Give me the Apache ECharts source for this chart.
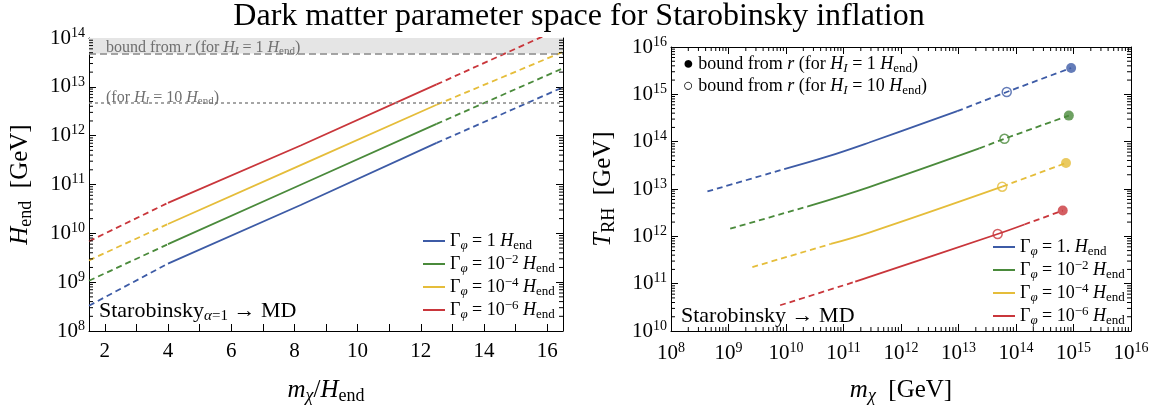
<!DOCTYPE html>
<html><head><meta charset="utf-8">
<script src="https://cdn.jsdelivr.net/npm/echarts@6/dist/echarts.min.js"></script>
<style>html,body{margin:0;padding:0;background:#fff}#c{width:1158px;height:405px}</style>
</head><body><div id="c"></div>
<script>
const FONT = "'Liberation Serif','DejaVu Serif',serif";
const COLORS = ['#3d5ba6', '#4a8a3b', '#e5bd3a', '#c9363b'];

// ---------- Left panel: H_end vs m_chi/H_end ----------
const ratioX = [1.5, 4, 8.2, 12.5, 16.5];
const hBlue = [3.3e8, 2.4e9, 3.8e10, 7.1e11, 9.8e12];
const hGreen = [1.07e9, 6.0e9, 9.9e10, 1.74e12, 2.4e13];
const hYellow = [2.8e9, 1.55e10, 2.5e11, 4.3e12, 5.2e13];
const hRed = [6.9e9, 4.2e10, 6.3e11, 1.12e13, 1.66e14];
const boundH = [4.8e13, 4.8e12];           // H_I = 1 H_end, H_I = 10 H_end
const leftXTicks = [2, 4, 6, 8, 10, 12, 14, 16];

// ---------- Right panel: T_RH vs m_chi ----------
const rBlueLow = [[4.3e8, 8.9e12], [9.3e9, 2.63e13]];
const rBlueSolid = [[9.3e9, 2.63e13], [5e10, 4.75e13], [2.8e11, 9.6e13], [9.5e12, 4.4e14]];
const rBlueHigh = [[9.5e12, 4.4e14], [6.9e13, 1.12e15], [9.1e14, 3.6e15]];
const rGreenLow = [[1.07e9, 1.45e12], [2.4e10, 4.3e12]];
const rGreenSolid = [[2.4e10, 4.3e12], [2.8e11, 1.1e13], [2.3e13, 7.2e13]];
const rGreenHigh = [[2.3e13, 7.2e13], [6.3e13, 1.15e14], [8.3e14, 3.55e14]];
const rYellowLow = [[2.6e9, 2.24e11], [6.0e10, 6.9e11]];
const rYellowSolid = [[6.0e10, 6.9e11], [2.8e11, 1.2e12], [5.75e13, 1.12e13]];
const rYellowHigh = [[5.75e13, 1.12e13], [7.4e14, 3.55e13]];
const rRedLow = [[7.9e9, 3.5e10], [1.6e11, 1.1e11]];
const rRedSolid = [[1.6e11, 1.1e11], [2.75e11, 1.38e11], [4.8e13, 1.12e12], [1.4e14, 1.78e12]];
const rRedHigh = [[1.4e14, 1.78e12], [6.5e14, 3.5e12]];
const openPts = [[6.9e13, 1.12e15], [6.3e13, 1.15e14], [5.75e13, 1.12e13], [4.8e13, 1.12e12]];
const filledPts = [[9.1e14, 3.6e15], [8.3e14, 3.55e14], [7.4e14, 3.55e13], [6.5e14, 3.5e12]];

const minorMult = [2, 3, 4, 5, 6, 7, 8, 9];
const leftYDecades = [8, 9, 10, 11, 12, 13];
const rightXDecades = [8, 9, 10, 11, 12, 13, 14, 15];
const rightYDecades = [10, 11, 12, 13, 14, 15];

function rich(size, color) {
  color = color || '#000';
  const s = Math.round(size * 0.7);
  const b = {fontFamily: FONT, color: color, fontWeight: 'normal'};
  return {
    n: Object.assign({}, b, {fontSize: size, lineHeight: Math.round(size * 1.2)}),
    i: Object.assign({}, b, {fontSize: size, fontStyle: 'italic', lineHeight: Math.round(size * 1.2)}),
    sb: Object.assign({}, b, {fontSize: s, verticalAlign: 'bottom', lineHeight: Math.round(size * 0.62)}),
    sbi: Object.assign({}, b, {fontSize: s, fontStyle: 'italic', verticalAlign: 'bottom', lineHeight: Math.round(size * 0.62)}),
    sp: Object.assign({}, b, {fontSize: s, verticalAlign: 'top', lineHeight: Math.round(size * 0.5)})
  };
}

const leftLegendText = {
  L0: '{n|Γ}{sbi|φ}{n| = 1 }{i|H}{sb|end}',
  L1: '{n|Γ}{sbi|φ}{n| = 10}{sp|−2}{n| }{i|H}{sb|end}',
  L2: '{n|Γ}{sbi|φ}{n| = 10}{sp|−4}{n| }{i|H}{sb|end}',
  L3: '{n|Γ}{sbi|φ}{n| = 10}{sp|−6}{n| }{i|H}{sb|end}'
};
const rightLegendText = {
  R0: '{n|Γ}{sbi|φ}{n| = 1. }{i|H}{sb|end}',
  R1: '{n|Γ}{sbi|φ}{n| = 10}{sp|−2}{n| }{i|H}{sb|end}',
  R2: '{n|Γ}{sbi|φ}{n| = 10}{sp|−4}{n| }{i|H}{sb|end}',
  R3: '{n|Γ}{sbi|φ}{n| = 10}{sp|−6}{n| }{i|H}{sb|end}'
};

const LW = 1.8;
const DASH = [6, 4];
const series = [];

// bounds (band + lines) on left panel
series.push({
  type: 'line', xAxisIndex: 0, yAxisIndex: 0, data: [], silent: true, z: 1,
  markArea: {silent: true, itemStyle: {color: '#e5e5e5'},
    data: [[{yAxis: boundH[0]}, {yAxis: 1e14}]]},
  markLine: {silent: true, symbol: 'none', label: {show: false},
    data: [
      {yAxis: boundH[0], lineStyle: {color: '#888', type: [7, 4], width: 1.5}},
      {yAxis: boundH[1], lineStyle: {color: '#888', type: [3, 3], width: 1.5}}
    ]}
});

const leftSets = [hBlue, hGreen, hYellow, hRed];
leftSets.forEach((h, k) => {
  const pts = ratioX.map((x, i) => [x, h[i]]);
  const base = {type: 'line', xAxisIndex: 0, yAxisIndex: 0, symbol: 'none', z: 3, clip: true};
  series.push(Object.assign({}, base, {name: 'L' + k + 'a', data: pts.slice(0, 2),
    lineStyle: {color: COLORS[k], width: LW, type: DASH}, itemStyle: {color: COLORS[k]}}));
  series.push(Object.assign({}, base, {name: 'L' + k, data: pts.slice(1, 4),
    lineStyle: {color: COLORS[k], width: LW}, itemStyle: {color: COLORS[k]}}));
  series.push(Object.assign({}, base, {name: 'L' + k + 'b', data: pts.slice(3, 5),
    lineStyle: {color: COLORS[k], width: LW, type: DASH}, itemStyle: {color: COLORS[k]}}));
});

const rightSets = [
  [rBlueLow, rBlueSolid, rBlueHigh],
  [rGreenLow, rGreenSolid, rGreenHigh],
  [rYellowLow, rYellowSolid, rYellowHigh],
  [rRedLow, rRedSolid, rRedHigh]
];
rightSets.forEach((s, k) => {
  const base = {type: 'line', xAxisIndex: 2, yAxisIndex: 2, symbol: 'none', z: 3, smooth: 0.4};
  series.push(Object.assign({}, base, {name: 'R' + k + 'a', data: s[0],
    lineStyle: {color: COLORS[k], width: LW, type: DASH}, itemStyle: {color: COLORS[k]}}));
  series.push(Object.assign({}, base, {name: 'R' + k, data: s[1],
    lineStyle: {color: COLORS[k], width: LW}, itemStyle: {color: COLORS[k]}}));
  series.push(Object.assign({}, base, {name: 'R' + k + 'b', data: s[2],
    lineStyle: {color: COLORS[k], width: LW, type: DASH}, itemStyle: {color: COLORS[k]}}));
  series.push({type: 'scatter', xAxisIndex: 2, yAxisIndex: 2, z: 4, symbol: 'circle', symbolSize: 9,
    data: [openPts[k]], itemStyle: {color: 'rgba(0,0,0,0)', borderColor: COLORS[k], borderWidth: 1.5}});
  series.push({type: 'scatter', xAxisIndex: 2, yAxisIndex: 2, z: 4, symbol: 'circle', symbolSize: 10,
    data: [filledPts[k]], itemStyle: {color: COLORS[k]}});
});

// minor log ticks (2..9 per decade) via custom series on the axes' scales
function tickSeries(xi, yi, data) {
  return {
    type: 'custom', xAxisIndex: xi, yAxisIndex: yi, silent: true, z: 6, data: data,
    renderItem: function (params, api) {
      const p = api.coord([api.value(0), api.value(1)]);
      return {type: 'line', shape: {x1: p[0], y1: p[1], x2: p[0] + api.value(2), y2: p[1] + api.value(3)},
        style: {stroke: '#000', lineWidth: 1}};
    }
  };
}
const TL = 4;
const lyMinor = [];
leftYDecades.forEach(d => minorMult.forEach(m => {
  const v = m * Math.pow(10, d);
  lyMinor.push([1.5, v, TL, 0]); lyMinor.push([16.5, v, -TL, 0]);
}));
series.push(tickSeries(0, 0, lyMinor));
const rMinor = [];
rightXDecades.forEach(d => minorMult.forEach(m => {
  const v = m * Math.pow(10, d);
  rMinor.push([v, 1e10, 0, -TL]); rMinor.push([v, 1e16, 0, TL]);
}));
rightYDecades.forEach(d => minorMult.forEach(m => {
  const v = m * Math.pow(10, d);
  rMinor.push([1e8, v, TL, 0]); rMinor.push([1e16, v, -TL, 0]);
}));
series.push(tickSeries(2, 2, rMinor));

const tickRich = {
  b: {fontFamily: FONT, fontSize: 21, color: '#000', fontWeight: 'normal', lineHeight: 24},
  s: {fontFamily: FONT, fontSize: 14, color: '#000', fontWeight: 'normal', verticalAlign: 'top', lineHeight: 12}
};
function logFmt(v) { return '{b|10}{s|' + Math.round(Math.log10(v)) + '}'; }

const axisLine = {show: true, lineStyle: {color: '#000', width: 1}};
const majorTick = {show: true, inside: true, length: 7, lineStyle: {color: '#000', width: 1}};

const xAxis = [
  {gridIndex: 0, type: 'value', position: 'bottom', min: 1.5, max: 16.5, splitNumber: 15,
    axisLine: axisLine, axisTick: majorTick, splitLine: {show: false},
    axisLabel: {margin: 10, fontFamily: FONT, fontSize: 21, color: '#000',
      formatter: v => (leftXTicks.indexOf(v) >= 0 ? String(v) : '')},
    name: '{i|m}{sbi|χ}{n|/}{i|H}{sb|end}', nameLocation: 'middle', nameGap: 44,
    nameTextStyle: {rich: rich(25)}},
  {gridIndex: 0, type: 'value', position: 'top', min: 1.5, max: 16.5, splitNumber: 15,
    axisLine: axisLine, axisTick: majorTick, splitLine: {show: false}, axisLabel: {show: false}},
  {gridIndex: 1, type: 'log', position: 'bottom', min: 1e8, max: 1e16,
    axisLine: axisLine, axisTick: majorTick, splitLine: {show: false},
    axisLabel: {margin: 10, formatter: logFmt, rich: tickRich},
    name: '{i|m}{sbi|χ}{n|  [GeV]}', nameLocation: 'middle', nameGap: 44,
    nameTextStyle: {rich: rich(25)}},
  {gridIndex: 1, type: 'log', position: 'top', min: 1e8, max: 1e16,
    axisLine: axisLine, axisTick: majorTick, splitLine: {show: false}, axisLabel: {show: false}}
];
const yAxis = [
  {gridIndex: 0, type: 'log', position: 'left', min: 1e8, max: 1e14,
    axisLine: axisLine, axisTick: majorTick, splitLine: {show: false},
    axisLabel: {margin: 4, formatter: logFmt, rich: tickRich},
    name: '{i|H}{sb|end}{n|  [GeV]}', nameLocation: 'middle', nameGap: 54, nameRotate: 90,
    nameTextStyle: {rich: rich(25)}},
  {gridIndex: 0, type: 'log', position: 'right', min: 1e8, max: 1e14,
    axisLine: axisLine, axisTick: majorTick, splitLine: {show: false}, axisLabel: {show: false}},
  {gridIndex: 1, type: 'log', position: 'left', min: 1e10, max: 1e16,
    axisLine: axisLine, axisTick: majorTick, splitLine: {show: false},
    axisLabel: {margin: 4, formatter: logFmt, rich: tickRich},
    name: '{i|T}{sb|RH}{n|  [GeV]}', nameLocation: 'middle', nameGap: 53, nameRotate: 90,
    nameTextStyle: {rich: rich(25)}},
  {gridIndex: 1, type: 'log', position: 'right', min: 1e10, max: 1e16,
    axisLine: axisLine, axisTick: majorTick, splitLine: {show: false}, axisLabel: {show: false}}
];

function note(text, left, top, size, color) {
  return {text: text, left: left, top: top, padding: 0,
    textStyle: {fontWeight: 'normal', rich: rich(size, color)}};
}
const GRAY = '#6f6f6f';
const titles = [
  {text: 'Dark matter parameter space for Starobinsky inflation', left: 'center', top: 1, padding: 0,
    textStyle: {fontFamily: FONT, fontSize: 32, fontWeight: 'normal', color: '#000'}},
  note('{n|bound from }{i|r}{n| (for }{i|H}{sbi|I}{n| = 1 }{i|H}{sb|end}{n|)}', 106, 38, 16, GRAY),
  note('{n|(for }{i|H}{sbi|I}{n| = 10 }{i|H}{sb|end}{n|)}', 106, 88, 16, GRAY),
  note('{n|Starobinsky}{sbi|α}{sb|=1}{n| → MD}', 99, 298, 22),
  note('{n|● bound from }{i|r}{n| (for }{i|H}{sbi|I}{n| = 1 }{i|H}{sb|end}{n|)}', 683, 53, 18),
  note('{n|○ bound from }{i|r}{n| (for }{i|H}{sbi|I}{n| = 10 }{i|H}{sb|end}{n|)}', 683, 75, 18),
  note('{n|Starobinsky → MD}', 681, 303, 22)
];

const option = {
  animation: false,
  backgroundColor: '#fff',
  title: titles,
  grid: [
    {left: 89, width: 474, top: 38, height: 293, containLabel: false, outerBoundsMode: 'none'},
    {left: 671, width: 460, top: 47, height: 284, containLabel: false, outerBoundsMode: 'none'}
  ],
  xAxis: xAxis,
  yAxis: yAxis,
  legend: [
    {data: ['L0', 'L1', 'L2', 'L3'], orient: 'vertical', left: 423, top: 232, icon: 'rect',
      itemWidth: 22, itemHeight: 2, itemGap: 1, selectedMode: false, padding: 0,
      formatter: n => leftLegendText[n], textStyle: {rich: rich(18)}},
    {data: ['R0', 'R1', 'R2', 'R3'], orient: 'vertical', left: 993, top: 238, icon: 'rect',
      itemWidth: 22, itemHeight: 2, itemGap: 1, selectedMode: false, padding: 0,
      formatter: n => rightLegendText[n], textStyle: {rich: rich(18)}}
  ],
  series: series
};
const chart = echarts.init(document.getElementById('c'));
chart.setOption(option);
</script></body></html>
